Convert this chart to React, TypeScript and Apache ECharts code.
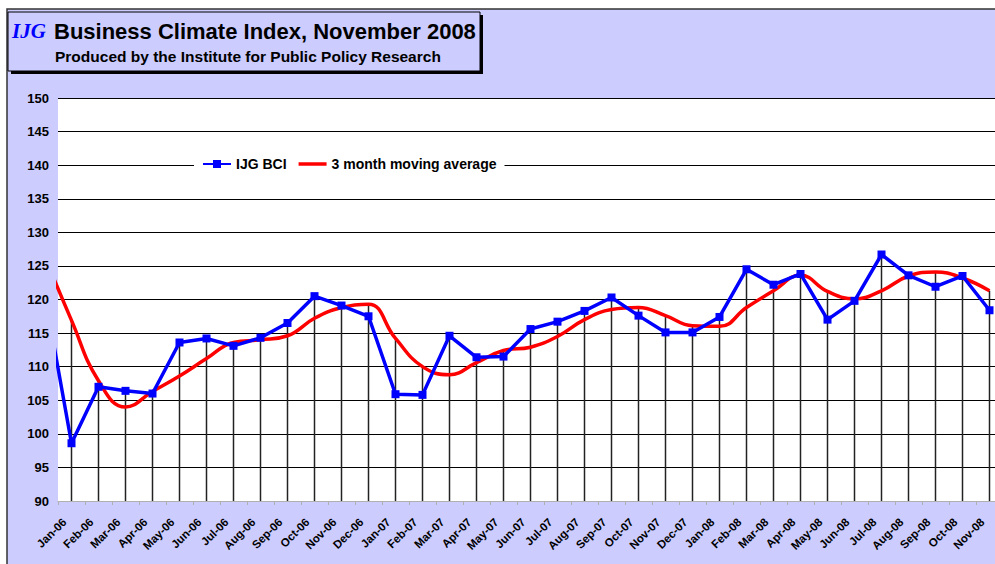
import React, { useEffect, useRef } from "react";
import * as echarts from "echarts";

// Category labels (x axis)
const months = [
  "Jan-06", "Feb-06", "Mar-06", "Apr-06", "May-06", "Jun-06", "Jul-06", "Aug-06", "Sep-06", "Oct-06", "Nov-06", "Dec-06",
  "Jan-07", "Feb-07", "Mar-07", "Apr-07", "May-07", "Jun-07", "Jul-07", "Aug-07", "Sep-07", "Oct-07", "Nov-07", "Dec-07",
  "Jan-08", "Feb-08", "Mar-08", "Apr-08", "May-08", "Jun-08", "Jul-08", "Aug-08", "Sep-08", "Oct-08", "Nov-08",
];

// The month before the first label (only a stub of it is visible at the left edge)
const prevBci = 121.0;
const prevMa = 126.5;

// IJG Business Climate Index
const bci = [
  98.6, 107.0, 106.4, 106.0, 113.6, 114.2, 113.1, 114.3, 116.5, 120.5, 119.1, 117.5,
  105.9, 105.8, 114.6, 111.4, 111.5, 115.6, 116.7, 118.3, 120.3, 117.6, 115.1, 115.1,
  117.4, 124.5, 122.2, 123.8, 117.0, 119.8, 126.7, 123.6, 121.9, 123.5, 118.4,
];

// 3 month moving average
const ma = [
  116.9, 107.9, 104.0, 106.3, 108.6, 111.2, 113.6, 114.0, 114.6, 117.2, 118.8, 119.3,
  114.2, 110.0, 108.8, 110.6, 112.4, 112.9, 114.5, 117.0, 118.5, 118.8, 117.6, 116.1,
  116.0, 118.8, 121.3, 123.6, 121.2, 120.1, 121.3, 123.5, 124.1, 123.2, 121.3,
];

const Y_MIN = 90;
const Y_MAX = 150;
const Y_STEP = 5;

const SANS = '"Liberation Sans", Arial, Helvetica, sans-serif';
const LAVENDER = "#CCCCFF";

export default function App() {
  const ref = useRef<HTMLDivElement>(null);

  useEffect(() => {
    if (!ref.current) return;
    const chart = echarts.init(ref.current, null, { renderer: "svg" });

    const bciPts = [[-1, prevBci], ...bci.map((v, i) => [i, v])];
    const maPts = [[-1, prevMa], ...ma.map((v, i) => [i, v])];
    const dropPts = months.map((_, i) => [i, Math.max(bci[i], ma[i])]);

    const option: any = {
      animation: false,
      backgroundColor: LAVENDER,
      textStyle: { fontFamily: SANS },
      graphic: [
        { type: "rect", shape: { x: 0, y: 0, width: 1010, height: 9 }, style: { fill: "#fff" }, silent: true },
        { type: "rect", shape: { x: 0, y: 0, width: 7, height: 564 }, style: { fill: "#fff" }, silent: true },
        {
          type: "polyline",
          shape: { points: [[7, 564], [7, 9], [1010, 9]] },
          style: { stroke: "#333", lineWidth: 1.5, fill: null },
          silent: true,
        },
        { type: "rect", shape: { x: 11, y: 15, width: 472, height: 59 }, style: { fill: "#000" }, silent: true },
        {
          type: "rect",
          shape: { x: 8, y: 12, width: 472, height: 59 },
          style: { fill: LAVENDER, stroke: "#000", lineWidth: 1 },
          silent: true,
        },
        {
          type: "text",
          x: 12,
          y: 31,
          style: {
            text: "IJG",
            fontFamily: '"Liberation Serif", "Times New Roman", serif',
            fontStyle: "italic",
            fontWeight: "bold",
            fontSize: 21,
            fill: "#0000FF",
            align: "left",
            verticalAlign: "middle",
            textAlign: "left",
            textVerticalAlign: "middle",
          },
          silent: true,
        },
        {
          type: "text",
          x: 54,
          y: 31,
          style: {
            text: "Business Climate Index, November 2008",
            fontFamily: SANS,
            fontWeight: "bold",
            fontSize: 22,
            fill: "#000",
            align: "left",
            verticalAlign: "middle",
            textAlign: "left",
            textVerticalAlign: "middle",
          },
          silent: true,
        },
        {
          type: "text",
          x: 55,
          y: 56,
          style: {
            text: "Produced by the Institute for Public Policy Research",
            fontFamily: SANS,
            fontWeight: "bold",
            fontSize: 15.5,
            fill: "#000",
            align: "left",
            verticalAlign: "middle",
            textAlign: "left",
            textVerticalAlign: "middle",
          },
          silent: true,
        },
      ],
      legend: {
        data: [
          { name: "IJG BCI" },
          { name: "3 month moving average", icon: "path://M0,0L28,0L28,3.5L0,3.5Z", itemStyle: { color: "#FF0000" } },
        ],
        left: 194,
        top: 153,
        orient: "horizontal",
        backgroundColor: "#fff",
        padding: [4, 8, 4, 8],
        itemWidth: 28,
        itemHeight: 10,
        itemGap: 12,
        symbolKeepAspect: true,
        textStyle: { fontFamily: SANS, fontSize: 14, fontWeight: "bold", color: "#000" },
      },
      grid: {
        left: 58,
        top: 98,
        width: 945,
        height: 403,
        show: true,
        backgroundColor: "#fff",
        borderWidth: 0,
      },
      xAxis: [
        {
          type: "category",
          data: months,
          boundaryGap: true,
          position: "bottom",
          axisLine: { show: true, lineStyle: { color: "#b0b0b0", width: 1 } },
          axisTick: { show: true, length: 4, lineStyle: { color: "#b0b0b0" } },
          axisLabel: {
            interval: 0,
            rotate: 45,
            margin: 12,
            padding: [0, 10, 0, 0],
            fontFamily: SANS,
            fontSize: 11.5,
            fontWeight: "bold",
            color: "#000",
          },
          splitLine: { show: false },
        },
        {
          type: "value",
          min: -0.5,
          max: 34.5,
          show: false,
          position: "top",
          splitLine: { show: false },
        },
      ],
      yAxis: {
        type: "value",
        min: Y_MIN,
        max: Y_MAX,
        interval: Y_STEP,
        axisLine: { show: false },
        axisTick: { show: false },
        axisLabel: { fontFamily: SANS, fontSize: 13, fontWeight: "bold", color: "#000", margin: 9 },
        splitLine: { show: true, lineStyle: { color: "#000", width: 1 } },
      },
      series: [
        {
          type: "custom",
          name: "drop",
          xAxisIndex: 1,
          yAxisIndex: 0,
          clip: true,
          silent: true,
          z: 1,
          data: dropPts,
          renderItem: (params: any, api: any) => {
            const x = api.value(0);
            const y = api.value(1);
            const top = api.coord([x, y]);
            const bottom = api.coord([x, Y_MIN]);
            return {
              type: "line",
              shape: { x1: top[0], y1: top[1], x2: bottom[0], y2: bottom[1] },
              style: { stroke: "#222", lineWidth: 1.5 },
            };
          },
        },
        {
          type: "line",
          name: "3 month moving average",
          xAxisIndex: 1,
          yAxisIndex: 0,
          data: maPts,
          smooth: 0.45,
          symbol: "none",
          clip: true,
          z: 3,
          lineStyle: { color: "#FF0000", width: 3.5 },
          itemStyle: { color: "#FF0000" },
        },
        {
          type: "line",
          name: "IJG BCI",
          xAxisIndex: 1,
          yAxisIndex: 0,
          data: bciPts,
          symbol: "rect",
          symbolSize: 8,
          showSymbol: true,
          showAllSymbol: true,
          clip: true,
          z: 4,
          lineStyle: { color: "#0000FF", width: 3.5 },
          itemStyle: { color: "#0000FF" },
        },
      ],
    };

    chart.setOption(option);
    return () => chart.dispose();
  }, []);

  return (
    <div
      style={{
        position: "fixed",
        left: 0,
        top: 0,
        width: 995,
        height: 564,
        overflow: "hidden",
        background: "#fff",
      }}
    >
      <div ref={ref} style={{ width: 1010, height: 564 }} />
    </div>
  );
}
